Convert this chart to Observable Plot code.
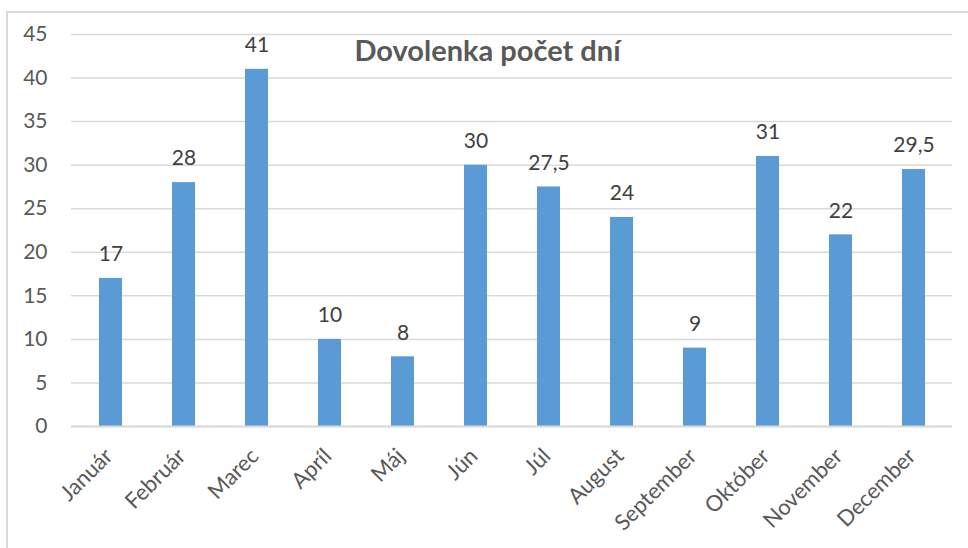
<!DOCTYPE html>
<html>
<head>
<meta charset="utf-8">
<script src="https://cdn.jsdelivr.net/npm/d3@7"></script>
<script src="https://cdn.jsdelivr.net/npm/@observablehq/plot@0.6"></script>
<style>
  html, body { margin: 0; padding: 0; background: #fff; }
  #wrap { position: relative; width: 968px; height: 548px; overflow: hidden; font-family: Lato, "Open Sans", sans-serif; }
  #frame { position: absolute; left: 6px; top: 11px; right: 0; bottom: 0; border-left: 2px solid #d9d9d9; border-top: 2px solid #d9d9d9; }
  #title { position: absolute; left: 7px; width: 961px; top: 31px; text-align: center; font-weight: bold; font-size: 29px; color: #595959; line-height: 38px; }
  #chart { position: absolute; left: 0; top: 0; }
</style>
</head>
<body>
<div id="wrap">
  <div id="frame"></div>
  <div id="chart"></div>
  <div id="title">Dovolenka počet dní</div>
</div>
<script>
const months = ["Január", "Február", "Marec", "Apríl", "Máj", "Jún", "Júl", "August", "September", "Október", "November", "December"];
const days = [17, 28, 41, 10, 8, 30, 27.5, 24, 9, 31, 22, 29.5];
const yTicks = [0, 5, 10, 15, 20, 25, 30, 35, 40, 45];

const data = months.map((m, i) => ({month: m, days: days[i]}));
const fmt = v => String(v).replace(".", ",");

const chart = Plot.plot({
  width: 968,
  height: 548,
  marginLeft: 71,
  marginRight: 16,
  marginTop: 34,
  marginBottom: 122,
  style: {fontFamily: "Lato, 'Open Sans', sans-serif", fontSize: "21px", color: "#595959", background: "transparent"},
  x: {domain: months, paddingInner: 0.686, paddingOuter: 0.343, axis: null},
  y: {domain: [0, 45], axis: null},
  marks: [
    Plot.gridY(yTicks, {stroke: "#d9d9d9", strokeOpacity: 1, strokeWidth: 1.5}),
    Plot.barY(data, {x: "month", y: "days", fill: "#5b9bd5"}),
    Plot.ruleY([0], {stroke: "#d9d9d9", strokeWidth: 2}),
    Plot.axisY(yTicks, {tickSize: 0, tickPadding: 24, label: null, fill: "#595959", fontSize: 21}),
    Plot.text(data, {x: "month", y: "days", text: d => fmt(d.days), dy: -24, fill: "#404040", fontSize: 21}),
    Plot.text(months, {x: d => d, frameAnchor: "bottom", rotate: -45, textAnchor: "end", lineAnchor: "bottom", dx: 3, dy: 31, fill: "#595959", fontSize: 22})
  ]
});
document.getElementById("chart").appendChild(chart);
</script>
</body>
</html>
